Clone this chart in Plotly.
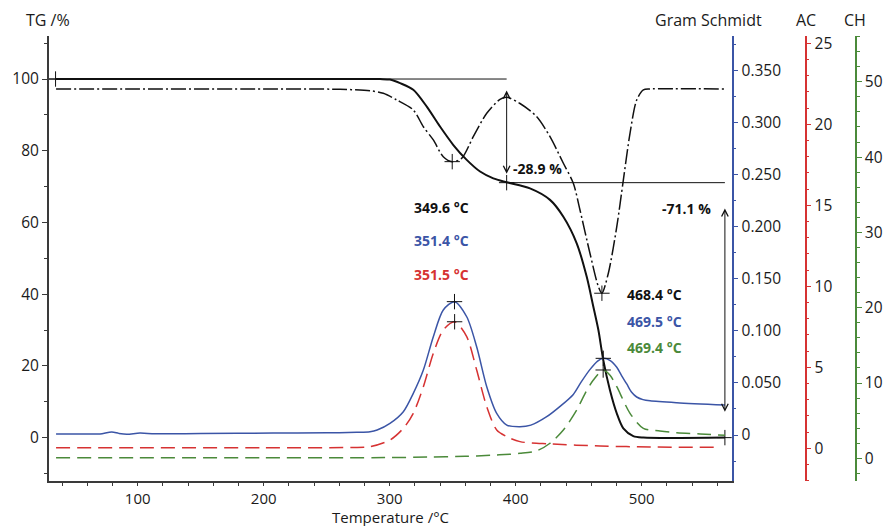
import numpy as np
import plotly.graph_objects as go

# ---------------- measured curves ----------------
# TG: residual mass (%)
tg_temp = [35.2, 100, 200, 280, 292.4, 300.2, 308.2, 318.7, 329.4, 339.9, 350.5, 361.1,
           371.7, 382.2, 392.9, 411.3, 427.2, 437.8, 448.4, 456.3, 461.6, 465.6, 469.5,
           474.8, 480.2, 485.4, 493.3, 501.3, 566.0]
tg_mass = [100.0, 100.0, 100.0, 100.0, 99.98, 99.85, 98.85, 97.0, 92.3, 86.75, 81.6, 77.45,
           74.2, 72.3, 71.2, 69.5, 66.3, 61.6, 54.2, 44.9, 36.5, 30.0, 21.6,
           13.2, 6.75, 2.57, 0.42, 0.0, 0.0]

# DTG: rate of mass change (%/min)
dtg_temp = [35.2, 100, 200, 260.6, 284.4, 294.9, 305.6, 318.7, 326.7, 334.6, 342.5, 349.6,
            357.1, 366.3, 377.0, 387.5, 392.9, 403.4, 416.7, 427.2, 437.8, 445.7, 451.0,
            458.9, 465.6, 468.4, 473.5, 480.2, 485.4, 490.7, 496.0, 501.3, 506.6, 566.0]
dtg_rate = [0.0, 0.0, 0.0, -0.03, -0.16, -0.40, -1.02, -1.95, -3.51, -4.74, -6.30, -6.76,
            -6.45, -4.44, -2.26, -0.96, -0.77, -1.35, -2.58, -4.44, -6.91, -8.77, -11.26,
            -15.28, -18.39, -19.0, -17.14, -12.81, -8.47, -4.12, -1.02, -0.09, 0.0, 0.0]

# FTIR Gram-Schmidt intensity
gs_temp = [35.2, 60, 70.1, 79.4, 85, 91.3, 101.8, 113.7, 150, 207.4, 250, 273.8, 284.4,
           290, 300.2, 310.8, 318.7, 326.7, 334.6, 342.5, 351.4, 361.1, 369.0, 377.0,
           384.9, 392.9, 403.4, 412, 424.6, 435.2, 445.7, 452, 459.0, 465, 469.5, 475,
           480.2, 484, 488.1, 492, 496.0, 501, 506.6, 527.8, 566.0]
gs_signal = [0.0010, 0.0010, 0.0010, 0.0029, 0.0016, 0.0008, 0.0019, 0.0012, 0.0015, 0.0019,
             0.0021, 0.0026, 0.0032, 0.0048, 0.0112, 0.0224, 0.0400, 0.0624, 0.0943, 0.1200,
             0.1280, 0.1135, 0.0847, 0.0464, 0.0208, 0.0096, 0.0080, 0.0095, 0.0176, 0.0275,
             0.0390, 0.0510, 0.0630, 0.0710, 0.0736, 0.0715, 0.0650, 0.0570, 0.0490, 0.0410,
             0.0365, 0.0340, 0.0328, 0.0310, 0.0288]

# AC trace (acetic acid band)
ac_temp = [35.2, 100, 200, 270, 284.4, 300.2, 310.8, 318.7, 326.7, 334.6, 342.5, 351.5,
           361.1, 369.0, 377.0, 384.9, 392.9, 403.4, 427.2, 466.9, 506.6, 560.5]
ac_signal = [0.03, 0.03, 0.03, 0.05, 0.10, 0.51, 1.23, 2.16, 3.80, 5.86, 7.30, 7.81,
             6.89, 4.83, 2.57, 1.13, 0.72, 0.41, 0.27, 0.14, 0.08, 0.06]

# CH trace (hydrocarbon band)
ch_temp = [35.2, 100, 200, 300, 330, 360, 380, 395.5, 403.4, 416.7, 427.2, 437.8, 448.4,
           455, 461.6, 469.4, 475, 480.2, 490.7, 501.3, 514.5, 527.8, 546.3, 566.0]
ch_signal = [0.08, 0.08, 0.08, 0.10, 0.17, 0.27, 0.40, 0.55, 0.66, 1.0, 2.0, 3.76, 6.41,
             8.6, 10.4, 11.73, 11.0, 9.51, 5.98, 3.98, 3.63, 3.40, 3.23, 3.07]

# Evaluated peak temperatures (°C)
dtg_peaks = [349.6, 468.4]
gs_peaks = [351.4, 469.5]
ac_peaks = [351.5]
ch_peaks = [469.4]

# Mass-loss steps: boundary temperatures and plateau levels (%)
step_temp = [34.8, 392.8, 566.0]
step_level = [100.0, 71.1, 0.0]

# Axis ranges
T_RANGE = [29.6, 571.4]
TG_RANGE = [-12.1, 112.0]
GS_RANGE = [-0.0441, 0.3829]
AC_RANGE = [-2.02, 25.45]
CH_RANGE = [-3.01, 56.08]
DTG_RANGE = [-36.47, 4.93]

# ---------------- styling ----------------
W, H = 892, 526
ML, MR, MT, MB = 49, 20, 36, 45
PW, PH = W - ML - MR, H - MT - MB
FONT = "Open Sans"
BLACK = "#111111"
AXIS_GREY = "#3a3a3a"
BLUE = "#3b55a6"
RED = "#d63232"
GREEN = "#4b8a3a"
TICK_FONT = dict(family=FONT, size=15.5, color="#1a1a1a")
X_TICK_FONT = dict(family=FONT, size=15, color="#1a1a1a")


def px_x(px):
    return (px - ML) / PW


def px_y(py):
    return (H - MB - py) / PH


X_DOMAIN_END = px_x(731.7)

fig = go.Figure()

SMOOTH = 0.8

fig.add_trace(go.Scatter(x=gs_temp, y=gs_signal, yaxis="y2", mode="lines",
                         line=dict(color=BLUE, width=1.5, shape="spline", smoothing=SMOOTH),
                         name="Gram Schmidt", hoverinfo="skip"))
fig.add_trace(go.Scatter(x=ac_temp, y=ac_signal, yaxis="y3", mode="lines",
                         line=dict(color=RED, width=1.5, dash="14px,7px", shape="spline",
                                   smoothing=SMOOTH),
                         name="AC", hoverinfo="skip"))
fig.add_trace(go.Scatter(x=ch_temp, y=ch_signal, yaxis="y4", mode="lines",
                         line=dict(color=GREEN, width=1.5, dash="14px,7px", shape="spline",
                                   smoothing=SMOOTH),
                         name="CH", hoverinfo="skip"))
fig.add_trace(go.Scatter(x=dtg_temp, y=dtg_rate, yaxis="y5", mode="lines",
                         line=dict(color=BLACK, width=1.5, dash="15px,3px,2px,3px",
                                   shape="spline", smoothing=SMOOTH),
                         name="DTG", hoverinfo="skip"))
fig.add_trace(go.Scatter(x=tg_temp, y=tg_mass, yaxis="y", mode="lines",
                         line=dict(color=BLACK, width=2, shape="spline", smoothing=SMOOTH),
                         name="TG", hoverinfo="skip"))

# Plateau reference lines of the mass-loss steps
fig.add_trace(go.Scatter(x=[T_RANGE[0], step_temp[1]], y=[step_level[0], step_level[0]],
                         mode="lines", line=dict(color=BLACK, width=1), hoverinfo="skip"))
fig.add_trace(go.Scatter(x=[step_temp[1], step_temp[2]], y=[step_level[1], step_level[1]],
                         mode="lines", line=dict(color=BLACK, width=1), hoverinfo="skip"))

cross = dict(symbol="cross-thin", size=11, color=BLACK, line=dict(color=BLACK, width=1))
fig.add_trace(go.Scatter(x=step_temp, y=step_level, mode="markers", marker=cross,
                         hoverinfo="skip"))
fig.add_trace(go.Scatter(x=dtg_peaks, y=np.interp(dtg_peaks, dtg_temp, dtg_rate), yaxis="y5",
                         mode="markers", marker=cross, hoverinfo="skip"))
fig.add_trace(go.Scatter(x=gs_peaks, y=np.interp(gs_peaks, gs_temp, gs_signal), yaxis="y2",
                         mode="markers", marker=cross, hoverinfo="skip"))
fig.add_trace(go.Scatter(x=ac_peaks, y=np.interp(ac_peaks, ac_temp, ac_signal), yaxis="y3",
                         mode="markers", marker=cross, hoverinfo="skip"))
fig.add_trace(go.Scatter(x=ch_peaks, y=np.interp(ch_peaks, ch_temp, ch_signal), yaxis="y4",
                         mode="markers", marker=cross, hoverinfo="skip"))

annotations = []

# Double-headed arrows spanning each mass-loss step
arrow_insets = [(2.8, 2.5), (6.8, 7.2)]
for i, (top_in, bot_in) in enumerate(arrow_insets):
    tx = step_temp[i + 1]
    annotations.append(dict(x=tx, y=step_level[i + 1] + bot_in, xref="x", yref="y",
                            ax=tx, ay=step_level[i] - top_in, axref="x", ayref="y",
                            text="", showarrow=True, arrowhead=5, startarrowhead=5,
                            arrowside="end+start", arrowsize=1.3, startarrowsize=1.3,
                            arrowwidth=1, arrowcolor=BLACK))

LABEL_SIZE = 14
bold = dict(family=FONT, size=LABEL_SIZE, color=BLACK)
d1 = step_level[1] - step_level[0]
d2 = step_level[2] - step_level[1]
annotations.append(dict(x=396.3, y=75.1, xref="x", yref="y", xanchor="left", yanchor="middle",
                        text=f"<b>{d1:.1f} %</b>", showarrow=False, font=bold))
annotations.append(dict(x=556.3, y=64.0, xref="x", yref="y", xanchor="right", yanchor="middle",
                        text=f"<b>{d2:.1f} %</b>", showarrow=False, font=bold))

# Peak temperature labels
groups = [
    (341.0, [(dtg_peaks[0], BLACK, 64.3), (gs_peaks[0], BLUE, 55.1), (ac_peaks[0], RED, 45.4)]),
    (510.0, [(dtg_peaks[1], BLACK, 39.8), (gs_peaks[1], BLUE, 32.3), (ch_peaks[0], GREEN, 25.1)]),
]
for gx, items in groups:
    for t, col, ly in items:
        annotations.append(dict(x=gx, y=ly, xref="x", yref="y", xanchor="center",
                                yanchor="middle", text=f"<b>{t:.1f} °C</b>", showarrow=False,
                                font=dict(family=FONT, size=LABEL_SIZE, color=col)))

# Axis titles
title_font = dict(family=FONT, size=16, color="#1a1a1a")
annotations += [
    dict(x=px_x(48), y=px_y(20.5), xref="paper", yref="paper", xanchor="center",
         yanchor="middle", text="TG /%", showarrow=False, font=title_font),
    dict(x=px_x(764), y=px_y(20.5), xref="paper", yref="paper", xanchor="right",
         yanchor="middle", text="Gram Schmidt", showarrow=False, font=title_font),
    dict(x=px_x(806), y=px_y(20.5), xref="paper", yref="paper", xanchor="center",
         yanchor="middle", text="AC", showarrow=False, font=title_font),
    dict(x=px_x(854.5), y=px_y(20.5), xref="paper", yref="paper", xanchor="center",
         yanchor="middle", text="CH", showarrow=False, font=title_font),
    dict(x=px_x(390), y=px_y(516.5), xref="paper", yref="paper", xanchor="center",
         yanchor="middle", text="Temperature /°C", showarrow=False,
         font=dict(family=FONT, size=15, color="#1a1a1a")),
]

gs_ticks = [0.0, 0.05, 0.10, 0.15, 0.20, 0.25, 0.30, 0.35]
gs_text = ["0" if v == 0 else f"{v:.3f}" for v in gs_ticks]

fig.update_layout(
    width=W, height=H,
    margin=dict(l=ML, r=MR, t=MT, b=MB, autoexpand=False),
    paper_bgcolor="white", plot_bgcolor="white",
    showlegend=False,
    font=dict(family=FONT),
    annotations=annotations,
    xaxis=dict(domain=[0, X_DOMAIN_END], range=T_RANGE, tickmode="linear", tick0=0, dtick=100,
               ticks="outside", ticklen=3, tickwidth=1, tickcolor=AXIS_GREY,
               minor=dict(ticks="outside", ticklen=3, dtick=20, tick0=0, tickcolor=AXIS_GREY),
               showline=True, linecolor=AXIS_GREY, linewidth=2, showgrid=False,
               zeroline=False, tickfont=X_TICK_FONT, automargin=False),
    yaxis=dict(range=TG_RANGE, tickmode="linear", tick0=0, dtick=20, ticks="outside",
               ticklen=5, tickwidth=1, tickcolor=AXIS_GREY,
               minor=dict(ticks="outside", ticklen=3, dtick=10, tick0=0, tickcolor=AXIS_GREY),
               showline=True, linecolor=AXIS_GREY, linewidth=2, showgrid=False, zeroline=False,
               tickfont=TICK_FONT, automargin=False),
    yaxis2=dict(overlaying="y", side="right", anchor="x", range=GS_RANGE,
                tickmode="array", tickvals=gs_ticks, ticktext=gs_text, ticks="outside",
                ticklen=5, tickwidth=1, tickcolor=BLUE,
                minor=dict(ticks="outside", ticklen=3, dtick=0.025, tick0=0, tickcolor=BLUE),
                showline=True, linecolor=BLUE, linewidth=1.5, showgrid=False, zeroline=False,
                tickfont=TICK_FONT, automargin=False),
    yaxis3=dict(overlaying="y", side="right", anchor="free", position=px_x(805.7),
                range=AC_RANGE, tickmode="linear", tick0=0, dtick=5, ticks="outside",
                ticklen=5, tickwidth=1, tickcolor=RED,
                minor=dict(ticks="outside", ticklen=3, dtick=1, tick0=0, tickcolor=RED),
                showline=True, linecolor=RED, linewidth=1.5, showgrid=False, zeroline=False,
                tickfont=TICK_FONT, automargin=False),
    yaxis4=dict(overlaying="y", side="right", anchor="free", position=px_x(856),
                range=CH_RANGE, tickmode="linear", tick0=0, dtick=10, ticks="outside",
                ticklen=5, tickwidth=1, tickcolor=GREEN,
                minor=dict(ticks="outside", ticklen=3, dtick=2, tick0=0, tickcolor=GREEN),
                showline=True, linecolor=GREEN, linewidth=1.5, showgrid=False, zeroline=False,
                tickfont=TICK_FONT, automargin=False),
    yaxis5=dict(overlaying="y", range=DTG_RANGE, visible=False, anchor="x"),
)

fig.write_html("out.html")
